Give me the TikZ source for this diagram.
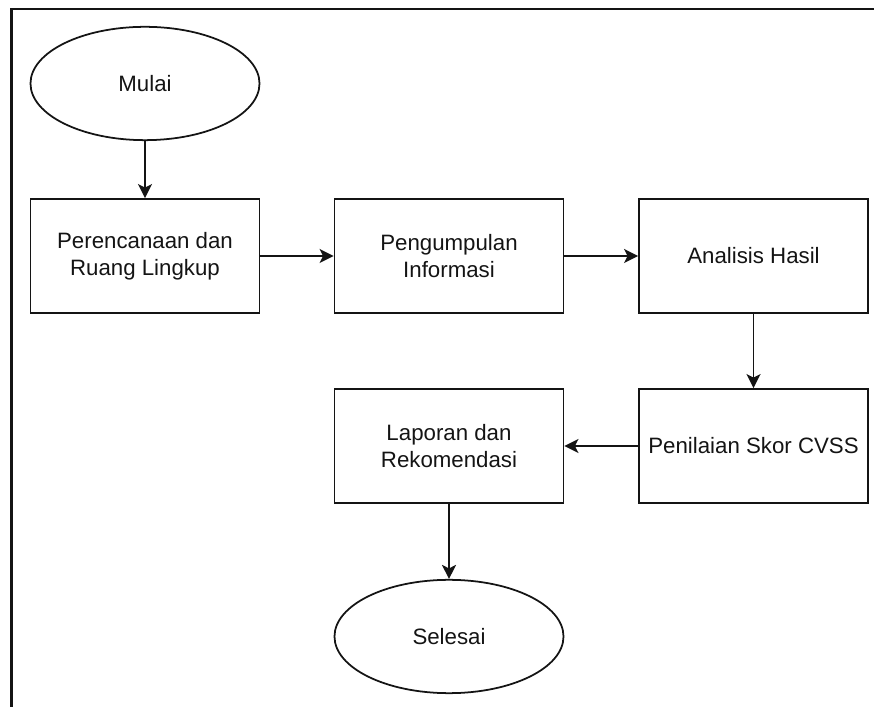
\documentclass[tikz,border=0pt]{standalone}
\usepackage{fontspec}
\setmainfont{Liberation Sans}
\usetikzlibrary{arrows.meta,shapes.geometric}
\definecolor{inkblack}{RGB}{20, 20, 20}

\tikzset{
    procbox/.style  ={draw=inkblack, line width=1.5pt, rectangle, minimum width=6.87cm, minimum height=3.42cm,
                      inner sep=2pt, align=center, text=inkblack, font=\fontsize{19}{23}\selectfont},
    termoval/.style ={draw=inkblack, line width=1.5pt, ellipse, minimum width=6.87cm, minimum height=3.40cm,
                      inner sep=0pt, align=center, text=inkblack, font=\fontsize{19}{23}\selectfont},
    flowline/.style ={draw=inkblack, line width=1.5pt, -{Stealth[length=12pt, width=12pt, inset=3pt]}}
}

\begin{document}
\begin{tikzpicture}[x=0.03cm, y=0.03cm]
            % Frame to ensure alignment:
            \useasboundingbox                                          (  0.0,    0.0) rectangle (874.0, 707.0);
            \draw[inkblack, line width=2pt]                             ( 11.5,    0.0) -- ( 11.5, 698.0) -- (874.0, 698.0);

            % Start and end:
            \node[termoval] (mulai)     at (145.0, 623.5) {Mulai};
            \node[termoval] (selesai)   at (449.0,  70.5) {Selesai};

            % Steps:
            \node[procbox]  (rencana)   at (145.0, 451.0) {Perencanaan dan\\Ruang Lingkup};
            \node[procbox]  (kumpul)    at (449.0, 451.0) {Pengumpulan\\Informasi};
            \node[procbox]  (analisis)  at (753.5, 451.0) {Analisis Hasil};
            \node[procbox]  (penilaian) at (753.5, 261.0) {Penilaian Skor CVSS};
            \node[procbox]  (laporan)   at (449.0, 261.0) {Laporan dan\\Rekomendasi};

            % Flow:
            \draw[flowline] (mulai)     -- (rencana);
            \draw[flowline] (rencana)   -- (kumpul);
            \draw[flowline] (kumpul)    -- (analisis);
            \draw[flowline] (analisis)  -- (penilaian);
            \draw[flowline] (penilaian) -- (laporan);
            \draw[flowline] (laporan)   -- (selesai);
        \end{tikzpicture}
\end{document}
